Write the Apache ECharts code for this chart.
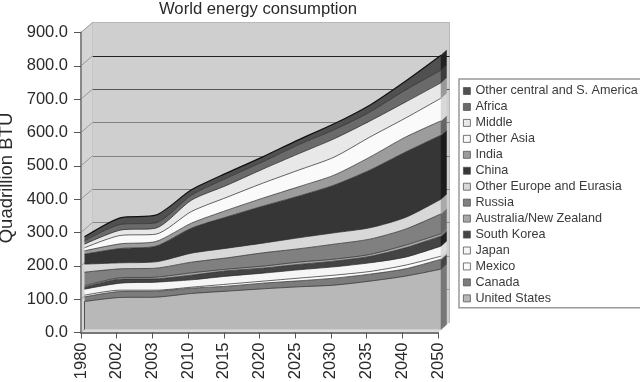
<!DOCTYPE html>
<html><head><meta charset="utf-8">
<style>html,body{margin:0;padding:0;background:#fff}#c{width:640px;height:382px}</style>
<script src="https://cdn.jsdelivr.net/npm/echarts@6/dist/echarts.min.js"></script>
</head><body><div id="c"></div>
<script>
const categories = ['1980','2002','2003','2010','2015','2020','2025','2030','2035','2040','2050'];
const yTicks = [0,100,200,300,400,500,600,700,800,900];
const unitedStates = [84,96,97,108,115,122,128,133,145,160,181];
const canada = [14,18,18,16,15,17,18,21,21,22,30];
const mexico = [5,4,3,3,6,6,8,9,8,11,9];
const japan = [18,21,24,22,24,24,25,25,26,24,30];
const southKorea = [6,12,10,14,16,15,16,17,19,28,30];
const australiaNZ = [4,4,5,7,5,6,7,6,6,8,7];
const russia = [41,27,27,32,34,40,40,45,46,48,60];
const otherEurope = [24,18,19,27,29,29,33,34,34,35,44];
const china = [30,43,47,75,94,111,125,143,173,196,192];
const india = [10,14,14,15,20,24,28,30,39,45,43];
const otherAsia = [9,25,22,35,39,45,50,54,60,57,68];
const middle = [11,16,18,34,36,42,49,55,48,48,46];
const africa = [10,17,16,15,22,22,27,27,27,36,38];
const otherCentral = [12,20,23,16,15,15,15,18,21,27,45];

const names = ['United States','Canada','Mexico','Japan','South Korea','Australia/New Zealand','Russia','Other Europe and Eurasia','China','India','Other Asia','Middle','Africa','Other central and S. America'];
const values = [unitedStates,canada,mexico,japan,southKorea,australiaNZ,russia,otherEurope,china,india,otherAsia,middle,africa,otherCentral];
const fills = ['#b8b8b8','#7c7c7c','#fbfbfb','#f6f6f6','#444444','#a8a8a8','#808080','#d8d8d8','#363636','#9c9c9c','#fafafa','#e8e8e8','#6a6a6a','#505050'];
const sideFills = ['#777777','#454545','#d0d0d0','#dddddd','#222222','#777777','#666666','#aaaaaa','#1c1c1c','#666666','#d8d8d8','#999999','#3c3c3c','#222222'];
const font = '"Liberation Sans", Arial, sans-serif';
const ink = '#2a2a2a';
const gridColors = ['#bbbbbb','#999999','#999999','#888888','#808080','#808080','#808080','#555555','#222222','#b8b8b8'];
const depthX = 11.5, depthY = -10;
const last = categories.length - 1;

const series = [];
series.push({type:'custom',xAxisIndex:0,yAxisIndex:0,z:1,silent:true,clip:false,data:[[0,0]],
  renderItem(p,api){
    const a=api.coord([0,0]),b=api.coord([last,0]),t=api.coord([0,900]);
    const kids=[
      {type:'polygon',shape:{points:[[a[0],a[1]],[b[0],b[1]],[b[0]+depthX,b[1]+depthY],[a[0]+depthX,a[1]+depthY]]},style:{fill:'#dcdcdc'}},
      {type:'polygon',shape:{points:[[a[0],a[1]],[t[0],t[1]],[t[0]+depthX,t[1]+depthY],[a[0]+depthX,a[1]+depthY]]},style:{fill:'#d4d4d4'}}
    ];
    yTicks.forEach((v,i)=>{const q=api.coord([0,v]);
      kids.push({type:'line',shape:{x1:q[0],y1:q[1],x2:q[0]+depthX,y2:q[1]+depthY},style:{stroke:i==0?'#bbbbbb':'#999999',lineWidth:1}});});
    return {type:'group',children:kids};
  }});
names.forEach((n,i)=>{
  series.push({name:n,type:'line',stack:'total',smooth:0.25,xAxisIndex:2,yAxisIndex:2,z:3,showSymbol:false,silent:true,
    data:values[i],itemStyle:{color:fills[i]},
    lineStyle:{color:i==13?'#111111':'#2a2a2a',width:i==13?1.2:0.7},areaStyle:{color:fills[i],opacity:1},emphasis:{disabled:true}});
});
series.push({type:'custom',xAxisIndex:2,yAxisIndex:2,z:4,silent:true,clip:false,data:[[0,0]],
  renderItem(p,api){
    const kids=[];let low=0;
    values.forEach((arr,i)=>{const hi=low+arr[last];
      const a=api.coord([last,low]),b=api.coord([last,hi]);
      kids.push({type:'polygon',shape:{points:[[a[0],a[1]],[b[0],b[1]],[b[0]+5.5,b[1]-5],[a[0]+5.5,a[1]-5]]},style:{fill:sideFills[i],stroke:sideFills[i],lineWidth:0.5}});
      low=hi;});
    const s0=api.coord([0,0]),s1=api.coord([0,unitedStates[0]]);
    kids.push({type:'line',shape:{x1:s0[0],y1:s0[1],x2:s1[0],y2:s1[1]},style:{stroke:'#333333',lineWidth:0.8}});
    return {type:'group',children:kids};
  }});

const chart = echarts.init(document.getElementById('c'),null,{renderer:'canvas'});
chart.setOption({
  animation:false,backgroundColor:'#ffffff',
  title:{text:'World energy consumption',left:258,textAlign:'center',top:0.5,padding:0,textStyle:{fontFamily:font,fontSize:16.7,fontWeight:'normal',color:ink}},
  legend:{show:true,orient:'vertical',left:459,top:79,width:180,height:227,padding:[5.5,3,3,4],itemGap:2.95,itemWidth:7,itemHeight:7,
    icon:'rect',backgroundColor:'#ffffff',borderColor:'#999999',borderWidth:1.5,selectedMode:false,
    itemStyle:{borderColor:'#555555',borderWidth:0.8},
    data:names.slice().reverse(),
    textStyle:{fontFamily:font,fontSize:12.6,color:'#3a3a3a',lineHeight:13}},
  grid:[
    {left:81,width:357,top:32.5,height:300,outerBoundsMode:'none'},
    {left:92.5,width:357,top:22.5,height:300,outerBoundsMode:'none',show:true,backgroundColor:'#cfcfcf',borderColor:'#b8b8b8',borderWidth:1},
    {left:84.5,width:356.5,top:29.5,height:300,outerBoundsMode:'none'}
  ],
  xAxis:[
    {gridIndex:0,type:'category',data:categories,boundaryGap:false,z:6,
      axisLine:{lineStyle:{color:'#777777',width:2}},axisTick:{show:true,length:6,lineStyle:{color:'#555555',width:1},alignWithLabel:true},
      axisLabel:{rotate:90,fontFamily:font,fontSize:16.5,color:ink,margin:10,interval:0},splitLine:{show:false}},
    {gridIndex:1,type:'category',data:categories,boundaryGap:false,show:false},
    {gridIndex:2,type:'category',data:categories,boundaryGap:false,show:false}
  ],
  yAxis:[
    {gridIndex:0,type:'value',min:0,max:900,interval:100,z:6,name:'Quadrillion BTU',nameLocation:'middle',nameGap:65,nameMoveOverlap:false,
      nameTextStyle:{fontFamily:font,fontSize:18.5,color:ink,padding:[0,0,0,9]},
      axisLine:{show:true,lineStyle:{color:'#888888',width:2}},axisTick:{show:true,length:7,lineStyle:{color:'#555555',width:1}},
      axisLabel:{fontFamily:font,fontSize:16.5,color:ink,margin:13,formatter:v=>v.toFixed(1)},splitLine:{show:false}},
    {gridIndex:1,type:'value',min:0,max:900,interval:100,axisLine:{show:false},axisTick:{show:false},axisLabel:{show:false},
      splitLine:{show:true,lineStyle:{color:gridColors,width:1}}},
    {gridIndex:2,type:'value',min:0,max:900,interval:100,show:false,splitLine:{show:false}}
  ],
  series
});
</script></body></html>
